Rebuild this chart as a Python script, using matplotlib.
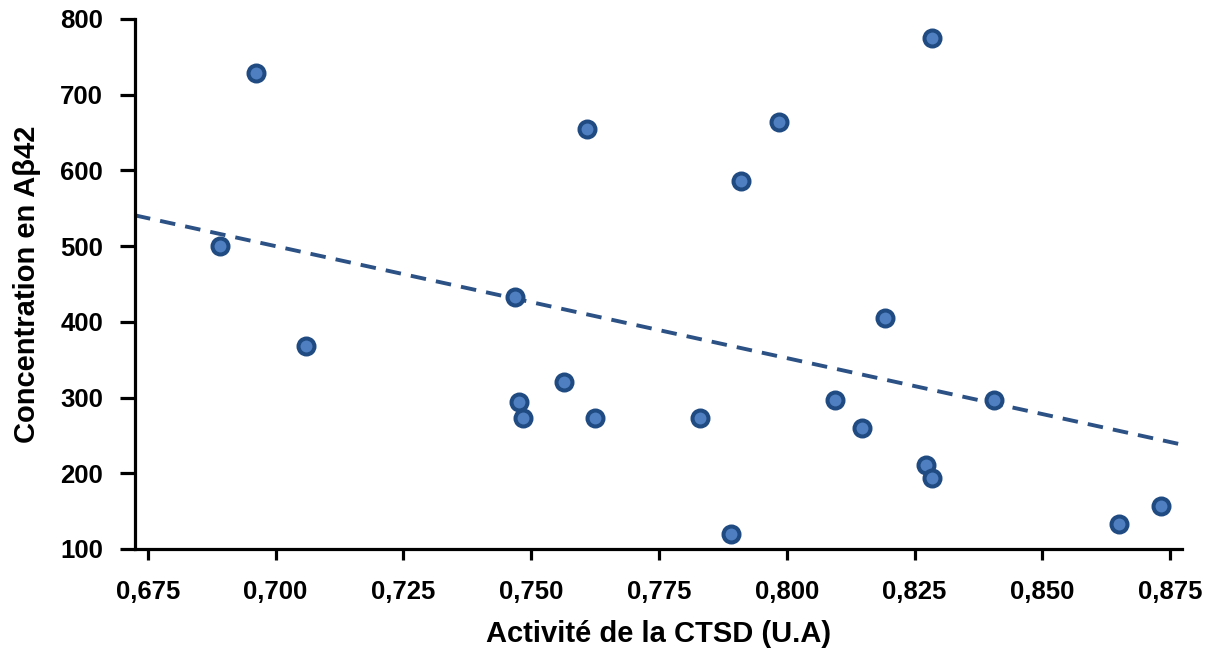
import numpy as np
import matplotlib
matplotlib.use("Agg")
import matplotlib.pyplot as plt
from matplotlib.ticker import FixedLocator, FuncFormatter

plt.rcParams['font.family'] = ['Liberation Sans', 'DejaVu Sans']

ctsd_activity = [0.6891, 0.6961, 0.7059, 0.7468, 0.7476, 0.7484, 0.7564, 0.7609,
                 0.7625, 0.7830, 0.7891, 0.7910, 0.7985, 0.8094, 0.8147, 0.8192,
                 0.8272, 0.8284, 0.8284, 0.8406, 0.8650, 0.8732]
abeta42 = [500, 729, 368, 433, 294, 273, 321, 655,
           273, 273, 120, 586, 664, 297, 260, 405,
           211, 775, 194, 297, 133, 157]
x_ticks = [0.675, 0.700, 0.725, 0.750, 0.775, 0.800, 0.825, 0.850, 0.875]
y_ticks = [100, 200, 300, 400, 500, 600, 700, 800]

fig = plt.figure(figsize=(12.06, 6.53), dpi=100)
ax = fig.add_axes([135/1206, 1-549/653, (1182-135)/1206, (549-19)/653])

xlim = (0.6725, 0.8773)
ax.set_xlim(*xlim)
ax.set_ylim(100, 800)

x = np.array(ctsd_activity)
y = np.array(abeta42)
slope, intercept = np.polyfit(x, y, 1)
xs = np.array(xlim)
ax.plot(xs, slope*xs + intercept, linestyle=(0, (4.0, 2.6)), color='#2b5185',
        linewidth=2.8, zorder=2)

ax.plot(x, y, linestyle='none', marker='o', markersize=11.5,
        markerfacecolor='#4f7fc0', markeredgecolor='#1f4a82', markeredgewidth=2.9,
        zorder=3, clip_on=False)

for s in ['top', 'right']:
    ax.spines[s].set_visible(False)
for s in ['left', 'bottom']:
    ax.spines[s].set_linewidth(2.3)
    ax.spines[s].set_color('black')

ax.xaxis.set_major_locator(FixedLocator(x_ticks))
ax.yaxis.set_major_locator(FixedLocator(y_ticks))
ax.xaxis.set_major_formatter(FuncFormatter(lambda v, p: f"{v:.3f}".replace('.', ',')))
ax.yaxis.set_major_formatter(FuncFormatter(lambda v, p: f"{v:.0f}"))
ax.tick_params(axis='x', length=8, width=2.3, pad=14, labelsize=18.5)
ax.tick_params(axis='y', length=11, width=2.3, pad=12, labelsize=18.5)
for lab in ax.get_xticklabels() + ax.get_yticklabels():
    lab.set_fontweight('bold')

ax.set_xlabel('Activité de la CTSD (U.A)', fontsize=21, fontweight='bold', labelpad=12)
ax.set_ylabel('Concentration en Aβ42', fontsize=21, fontweight='bold', labelpad=14)

fig.savefig('out.png', dpi=100)
